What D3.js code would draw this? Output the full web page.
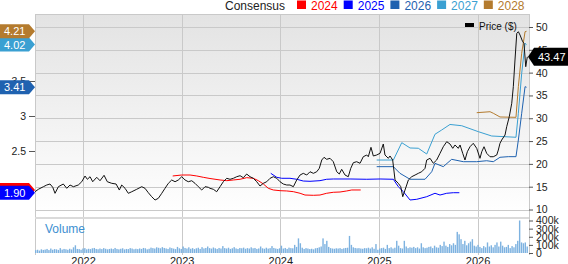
<!DOCTYPE html>
<html><head><meta charset="utf-8">
<script src="https://cdn.jsdelivr.net/npm/d3@7"></script>
<style>body{margin:0;background:#fff;overflow:hidden}svg{display:block;font-family:"Liberation Sans",Arial,sans-serif}</style>
</head><body><svg id="c" width="568" height="264"></svg>
<script>
// ---------- DATA ----------
const yearTicks = [2022, 2023, 2024, 2025, 2026];
const priceTicks = [10, 15, 20, 25, 30, 35, 40, 45, 50];
const epsTicks = [2.5, 3, 3.5];
const volumeTicks = [0, 100, 200, 300, 400]; // thousands
const seriesYears = [2024, 2025, 2026, 2027, 2028];
const seriesColors = ["#ff0000", "#0000ff", "#1f62b0", "#3aa0d2", "#b47b2e"];
const lastPrice = 43.47;

// price ($) : [decimal year, price]
const price = [[2021.513,13.90],[2021.547,14.43],[2021.598,15.00],[2021.632,15.37],[2021.665,15.59],[2021.693,14.87],[2021.716,13.55],[2021.750,15.00],[2021.800,15.59],[2021.835,14.65],[2021.868,15.37],[2021.902,15.00],[2021.952,15.37],[2021.987,16.09],[2022.020,17.34],[2022.044,16.62],[2022.071,17.19],[2022.098,16.09],[2022.139,17.06],[2022.172,16.31],[2022.213,17.50],[2022.246,16.09],[2022.291,15.74],[2022.335,15.59],[2022.368,14.27],[2022.392,15.37],[2022.426,14.65],[2022.459,13.55],[2022.494,13.90],[2022.544,14.43],[2022.595,15.00],[2022.628,14.65],[2022.662,13.68],[2022.696,12.81],[2022.730,12.08],[2022.763,12.45],[2022.798,13.55],[2022.831,14.65],[2022.865,15.74],[2022.899,16.47],[2022.933,16.09],[2022.966,16.47],[2023.001,17.19],[2023.034,16.47],[2023.067,16.09],[2023.102,16.31],[2023.135,15.74],[2023.169,15.00],[2023.203,14.27],[2023.237,15.00],[2023.270,14.87],[2023.287,14.65],[2023.321,14.43],[2023.355,13.90],[2023.389,15.00],[2023.422,16.09],[2023.457,16.84],[2023.490,16.62],[2023.524,16.84],[2023.558,17.19],[2023.592,17.41],[2023.625,16.97],[2023.659,17.78],[2023.693,17.19],[2023.726,16.84],[2023.761,16.09],[2023.794,15.15],[2023.828,15.74],[2023.862,16.09],[2023.896,16.84],[2023.929,17.19],[2023.964,16.84],[2023.997,16.09],[2024.030,15.59],[2024.065,15.37],[2024.098,15.37],[2024.132,15.00],[2024.166,16.47],[2024.200,17.56],[2024.233,17.93],[2024.268,17.56],[2024.301,18.28],[2024.335,17.93],[2024.369,18.28],[2024.395,19.03],[2024.420,20.85],[2024.443,21.44],[2024.470,21.00],[2024.504,21.22],[2024.537,20.48],[2024.572,18.28],[2024.598,17.78],[2024.622,18.81],[2024.656,17.56],[2024.689,17.19],[2024.714,19.03],[2024.740,20.26],[2024.774,20.48],[2024.808,20.13],[2024.841,21.57],[2024.876,21.95],[2024.892,21.57],[2024.919,23.63],[2024.943,21.73],[2024.977,21.95],[2025.011,22.32],[2025.044,24.36],[2025.061,21.95],[2025.095,21.22],[2025.112,21.73],[2025.139,20.85],[2025.163,16.47],[2025.196,15.74],[2025.221,15.00],[2025.241,12.81],[2025.264,14.27],[2025.298,16.47],[2025.332,17.19],[2025.366,17.56],[2025.399,17.93],[2025.433,18.28],[2025.467,19.03],[2025.484,20.85],[2025.518,21.22],[2025.551,20.13],[2025.585,20.85],[2025.619,22.32],[2025.652,23.76],[2025.687,24.86],[2025.720,24.36],[2025.748,23.41],[2025.771,24.14],[2025.804,23.41],[2025.822,24.14],[2025.849,22.32],[2025.872,20.85],[2025.896,22.67],[2025.923,23.76],[2025.956,24.51],[2025.991,23.41],[2026.024,21.22],[2026.042,22.67],[2026.065,23.76],[2026.092,22.32],[2026.126,21.57],[2026.159,21.57],[2026.194,21.95],[2026.210,23.04],[2026.227,24.51],[2026.244,25.23],[2026.278,26.33],[2026.295,28.15],[2026.321,30.34],[2026.346,33.28],[2026.362,36.92],[2026.379,42.77],[2026.397,48.62],[2026.413,48.97],[2026.430,48.25],[2026.457,46.78],[2026.470,46.43],[2026.488,41.30],[2026.504,43.47]];

// consensus EPS estimates : [decimal year, EPS]
const eps2024 = [[2022.909,2.143],[2023.001,2.157],[2023.085,2.157],[2023.153,2.143],[2023.219,2.124],[2023.287,2.107],[2023.389,2.086],[2023.457,2.076],[2023.524,2.086],[2023.592,2.096],[2023.659,2.119],[2023.726,2.110],[2023.777,2.076],[2023.828,2.029],[2023.878,1.967],[2023.929,1.943],[2023.997,1.933],[2024.065,1.929],[2024.132,1.919],[2024.200,1.896],[2024.250,1.871],[2024.335,1.867],[2024.402,1.871],[2024.470,1.896],[2024.537,1.910],[2024.605,1.914],[2024.673,1.929],[2024.724,1.943],[2024.815,1.943]];
const eps2025 = [[2023.903,2.181],[2023.964,2.124],[2024.014,2.110],[2024.098,2.110],[2024.166,2.096],[2024.233,2.071],[2024.301,2.067],[2024.402,2.076],[2024.470,2.096],[2024.537,2.100],[2024.707,2.100],[2024.876,2.096],[2025.011,2.100],[2025.146,2.096],[2025.196,1.990],[2025.247,1.919],[2025.315,1.800],[2025.383,1.810],[2025.484,1.847],[2025.568,1.896],[2025.619,1.871],[2025.687,1.896],[2025.754,1.904],[2025.815,1.904]];
const eps2026 = [[2024.977,2.276],[2025.146,2.276],[2025.213,2.181],[2025.315,2.096],[2025.467,2.096],[2025.535,2.204],[2025.568,2.324],[2025.652,2.276],[2025.737,2.381],[2025.855,2.347],[2025.991,2.347],[2026.092,2.361],[2026.159,2.347],[2026.227,2.410],[2026.311,2.419],[2026.389,2.419],[2026.413,2.657],[2026.447,3.039],[2026.481,3.419],[2026.496,3.41]];
const eps2027 = [[2024.977,2.371],[2025.146,2.371],[2025.231,2.619],[2025.315,2.543],[2025.399,2.539],[2025.484,2.457],[2025.568,2.739],[2025.636,2.800],[2025.720,2.879],[2025.839,2.861],[2026.007,2.776],[2026.143,2.714],[2026.278,2.704],[2026.389,2.696],[2026.413,3.039],[2026.447,3.610],[2026.481,4.039],[2026.496,4.02]];
const eps2028 = [[2025.991,3.047],[2026.126,3.061],[2026.159,3.039],[2026.227,2.986],[2026.389,2.981],[2026.413,3.419],[2026.447,3.896],[2026.481,4.204],[2026.496,4.21]];

// weekly volume (thousands), first week at volumeStart
const volumeStart = 2021.52;
const volume = [35,40,30,45,38,42,50,36,55,40,48,45,38,60,42,50,46,40,52,44,
70,95,50,48,40,55,60,45,52,48,58,62,50,46,55,48,60,52,45,50,
55,48,62,50,45,52,58,44,50,48,60,55,46,52,48,56,50,62,58,45,
52,66,60,55,70,64,58,72,62,56,50,68,60,54,48,75,58,50,80,62,
55,70,52,60,48,58,65,50,72,56,62,80,60,54,68,58,50,62,55,85,
60,55,65,50,58,72,56,50,62,58,66,52,60,55,70,58,62,50,56,80,
58,52,65,54,60,85,62,55,50,58,90,55,62,50,66,60,58,100,75,180,
120,65,50,60,55,48,52,45,58,62,70,80,180,110,150,75,60,55,52,58,
55,60,50,58,62,65,210,100,70,62,58,60,55,52,60,58,65,55,70,52,
110,40,55,60,65,50,100,60,70,55,65,150,90,60,55,150,80,60,70,65,
75,60,70,55,120,70,60,65,75,80,60,90,70,65,100,85,140,90,75,110,
95,120,100,260,230,170,110,150,95,120,140,170,90,80,100,75,60,85,70,130,
80,95,70,100,130,80,140,90,70,75,100,60,85,70,110,150,400,130,120,130,80];

// ---------- CHART ----------
const L = 35, R = 529, T = 14, MB = 217, VB = 253;
const svg = d3.select("#c");
const x = d3.scaleLinear().domain([2021.513, 2026.521]).range([L, R]);
const yP = d3.scaleLinear().domain([8.36, 52.85]).range([MB, T]);
const yE = d3.scaleLinear().domain([1.557, 4.457]).range([MB, T]);
const yV = d3.scaleLinear().domain([0, 400]).range([VB, 220.5]);

const defs = svg.append("defs");
const g = defs.append("linearGradient").attr("id", "bg").attr("x1", 0).attr("y1", 0).attr("x2", 0).attr("y2", 1);
g.append("stop").attr("offset", "0%").attr("stop-color", "#e3e3e3");
g.append("stop").attr("offset", "100%").attr("stop-color", "#ffffff");
defs.append("clipPath").attr("id", "clip").append("rect").attr("x", L).attr("y", T).attr("width", R - L).attr("height", MB - T);

svg.append("rect").attr("x", L).attr("y", T).attr("width", R - L).attr("height", MB - T).attr("fill", "url(#bg)");

// horizontal grid
svg.append("g").selectAll("line").data(priceTicks).join("line")
  .attr("x1", L).attr("x2", R).attr("y1", d => Math.round(yP(d)) + 0.5).attr("y2", d => Math.round(yP(d)) + 0.5)
  .attr("stroke", "#c9c9c9");
// vertical grid
svg.append("g").selectAll("line").data(yearTicks).join("line")
  .attr("x1", d => Math.round(x(d)) + 0.5).attr("x2", d => Math.round(x(d)) + 0.5).attr("y1", T).attr("y2", VB + 2)
  .attr("stroke", "#c9c9c9");
// borders
svg.append("line").attr("x1", L).attr("x2", R).attr("y1", T + 0.5).attr("y2", T + 0.5).attr("stroke", "#c9c9c9");
svg.append("line").attr("x1", L + 0.5).attr("x2", L + 0.5).attr("y1", T).attr("y2", VB + 2).attr("stroke", "#c9c9c9");
svg.append("line").attr("x1", R + 0.5).attr("x2", R + 0.5).attr("y1", T).attr("y2", VB + 2).attr("stroke", "#c9c9c9");
svg.append("rect").attr("x", L).attr("y", MB).attr("width", R - L).attr("height", 2).attr("fill", "#dadada");

// volume bars
svg.append("g").selectAll("rect").data(volume).join("rect")
  .attr("x", (d, i) => x(volumeStart + i / 52.18) - 0.7)
  .attr("width", 1.4)
  .attr("y", d => yV(d))
  .attr("height", d => VB - yV(d))
  .attr("fill", "#7db2e0");
svg.append("text").attr("x", 45).attr("y", 233).attr("font-size", 12).attr("fill", "#3d8fd1").text("Volume");

// EPS lines
const epsSeries = [eps2024, eps2025, eps2026, eps2027, eps2028];
const lineE = d3.line().x(d => x(d[0])).y(d => yE(d[1]));
const plot = svg.append("g").attr("clip-path", "url(#clip)");
epsSeries.forEach((s, i) => {
  plot.append("path").attr("d", lineE(s)).attr("fill", "none").attr("stroke", seriesColors[i]).attr("stroke-width", 1);
});
// price line
const lineP = d3.line().x(d => x(d[0])).y(d => yP(d[1]));
plot.append("path").attr("d", lineP(price)).attr("fill", "none").attr("stroke", "#111").attr("stroke-width", 1);

// axes
const axP = svg.append("g").attr("transform", `translate(${R},0)`)
  .call(d3.axisRight(yP).tickValues(priceTicks).tickSize(4).tickPadding(3));
const axV = svg.append("g").attr("transform", `translate(${R},0)`)
  .call(d3.axisRight(yV).tickValues(volumeTicks).tickSize(4).tickPadding(3).tickFormat(d => d === 0 ? "0" : d + "k"));
const axE = svg.append("g").attr("transform", `translate(${L},0)`)
  .call(d3.axisLeft(yE).tickValues(epsTicks).tickSize(6).tickPadding(3).tickFormat(d3.format("")));
const axX = svg.append("g").attr("transform", `translate(0,${VB})`)
  .call(d3.axisBottom(x).tickValues(yearTicks).tickSize(0).tickPadding(4).tickFormat(d3.format("d")));
[axP, axV, axE, axX].forEach(a => {
  a.select(".domain").remove();
  a.selectAll("line").attr("stroke", "#555");
  a.selectAll("text").attr("font-size", 10.5).attr("fill", "#222").attr("font-family", "Liberation Sans, Arial, sans-serif");
});
axX.selectAll("text").attr("font-size", 11);

// left EPS labels
const f2 = d3.format(".2f");
epsSeries.forEach((s, i) => {
  const v = s[s.length - 1][1];
  const yy = yE(v);
  const gL = svg.append("g");
  gL.append("path").attr("d", `M0,${yy - 7}H29L35,${yy}L29,${yy + 7}H0Z`).attr("fill", seriesColors[i]);
  gL.append("text").attr("x", 4).attr("y", yy).attr("dy", "0.36em").attr("font-size", 11).attr("fill", "#fff").text(f2(v));
});

// price label
const yp = yP(lastPrice);
svg.append("path").attr("d", `M528,${yp}L534,${yp - 9}H568V${yp + 9}H534Z`).attr("fill", "#000");
svg.append("text").attr("x", 538).attr("y", yp).attr("dy", "0.36em").attr("font-size", 11).attr("fill", "#fff").text(lastPrice.toFixed(2));

// price legend
svg.append("rect").attr("x", 465).attr("y", 23).attr("width", 9).attr("height", 4).attr("fill", "#000");
svg.append("text").attr("x", 479).attr("y", 29.5).attr("font-size", 10).attr("fill", "#111").text("Price ($)");

// top legend
const leg = svg.append("g").attr("font-size", 12);
leg.append("text").attr("x", 225).attr("y", 9.5).attr("fill", "#222").text("Consensus");
let lx = 297;
seriesYears.forEach((yv, i) => {
  leg.append("rect").attr("x", lx).attr("y", 0.5).attr("width", 9).attr("height", 8.5).attr("fill", seriesColors[i]);
  const t = leg.append("text").attr("x", lx + 14).attr("y", 9.5).attr("fill", seriesColors[i]).text(yv);
  lx += 14 + t.node().getComputedTextLength() + 6;
});
</script></body></html>
